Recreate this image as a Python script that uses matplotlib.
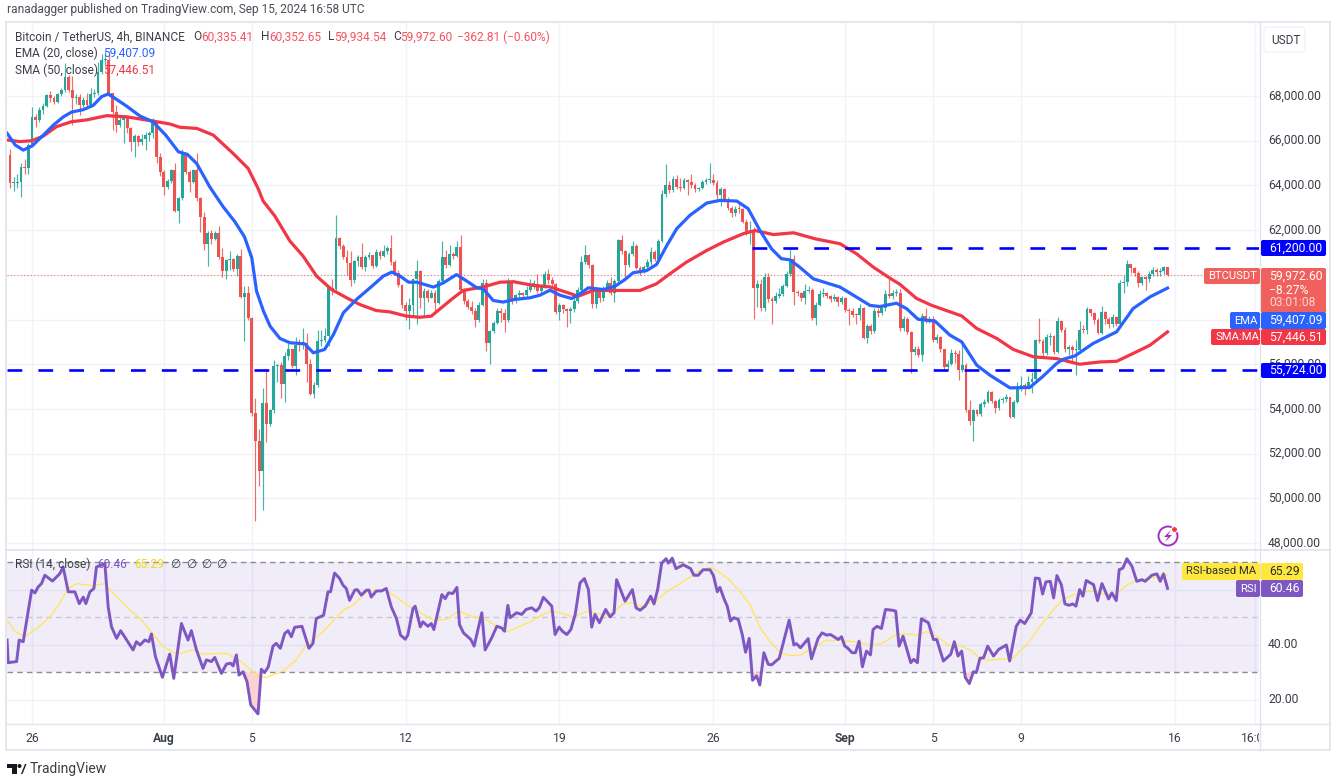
import numpy as np
import matplotlib
matplotlib.use('Agg')
import matplotlib.pyplot as plt
from matplotlib.patches import Circle, FancyBboxPatch, Polygon, Rectangle
from matplotlib.transforms import Bbox

plt.rcParams['font.family'] = ['Roboto', 'DejaVu Sans']

W, H = 1338, 783

# 4h candles, index 0 is Jul 26 00:00
first_index = -6
first_open = 65350
closes = [
    64090, 64100, 64130, 64830, 64780, 65800, 67070, 66930, 67370, 67560,
    68040, 67900, 67750, 68070, 68270, 68840, 68270, 67900, 67970, 67600,
    67820, 67600, 68100, 68120, 69090, 69600, 69610, 68120, 67300, 66700,
    66930, 67000, 66550, 65950, 66200, 65950, 66060, 66250, 66330, 66850,
    65280, 64610, 63940, 64180, 64680, 62870, 63420, 65430, 64610, 64160,
    64680, 63420, 62600, 61400, 61850, 61600, 61880, 60800, 60160, 60640,
    60690, 60240, 60840, 59000, 59190, 58070, 53820, 52550, 51200, 54270,
    53330, 53940, 55910, 55960, 55120, 56360, 56660, 55910, 56880, 56850,
    56950, 55990, 54670, 55090, 57030, 57100, 57250, 59390, 59350, 61630,
    61280, 60790, 60540, 59750, 60600, 60790, 60340, 60800, 60880, 60390,
    61000, 60840, 61060, 61210, 60580, 60090, 59540, 58640, 58400, 58640,
    59790, 60160, 58940, 59270, 58970, 59190, 58750, 59720, 60790, 60460,
    60910, 60840, 61240, 59300, 58820, 58550, 58370, 57970, 58670, 59640,
    56960, 57480, 57850, 58400, 58300, 57960, 59700, 58820, 59090, 59190,
    59090, 59340, 59570, 59580, 59270, 59490, 60020, 59750, 59570, 58340,
    58670, 58450, 58370, 58450, 58850, 59340, 60580, 60880, 60430, 58700,
    59340, 58940, 59420, 59640, 59190, 59720, 61550, 61060, 60430, 60910,
    61310, 60310, 60190, 60340, 60560, 61010, 60720, 61510, 63630, 64030,
    63780, 64300, 63930, 63880, 64220, 64150, 64000, 63850, 63900, 64150,
    64220, 64250, 64100, 63550, 63850, 63330, 63000, 62780, 62960, 62950,
    62360, 61910, 62000, 59420, 59600, 58520, 59900, 58930, 58850, 59050,
    59150, 59520, 60020, 60710, 59220, 59180, 58970, 59270, 59330, 58060,
    58670, 59120, 59180, 59050, 58900, 59000, 58780, 58960, 58430, 58370,
    58220, 58180, 58500, 57180, 57700, 57480, 58400, 58300, 58500, 59120,
    59030, 59180, 59200, 57630, 58030, 57430, 56530, 56680, 56430, 58150,
    57950, 58040, 57100, 57200, 56660, 55880, 56030, 56500, 56470, 55760,
    55950, 53970, 53460, 53940, 53760, 54240, 54300, 54760, 54360, 54060,
    54390, 54460, 54540, 53640, 54310, 54870, 55060, 54950, 55210, 55360,
    57100, 57050, 56480, 57220, 57250, 56550, 57940, 57550, 56660, 56780,
    56630, 56650, 57550, 57520, 58450, 58300, 58000, 57400, 58340, 58040,
    57790, 58120, 57820, 59640, 59690, 60480, 60290, 60090, 59640, 59880,
    59790, 60030, 60210, 60130, 60170, 60360, 59972,
]
highs = [
    65630, 64370, 64520, 65000, 65200, 65900, 67490, 67200, 67500, 67700,
    68100, 68240, 68000, 68150, 68350, 69460, 68950, 68900, 68100, 68100,
    67950, 68150, 68350, 68300, 69500, 69900, 69990, 69900, 68150, 67600,
    67100, 67150, 67100, 66600, 66300, 66250, 66300, 66400, 66450, 67000,
    66850, 65450, 64700, 64300, 64750, 65000, 63500, 65650, 65450, 64700,
    64750, 65450, 63500, 62800, 61950, 62000, 61950, 62200, 61200, 60700,
    61080, 60750, 60950, 61150, 59500, 59500, 58100, 54500, 53100, 54950,
    55800, 54000, 56200, 56000, 56100, 56550, 56950, 56700, 57200, 57150,
    57600, 57400, 56250, 55200, 57550, 57550, 57600, 59450, 59800, 62670,
    61700, 61400, 61100, 61050, 60650, 60900, 61430, 60900, 61000, 60900,
    61150, 61100, 61350, 61300, 61800, 60650, 60200, 59600, 58800, 58950,
    59850, 60640, 60200, 59400, 59350, 59300, 59300, 59800, 61530, 61100,
    61350, 61000, 61500, 61760, 59400, 58900, 58850, 58500, 58800, 59800,
    59800, 57550, 57950, 58500, 58500, 58480, 59850, 59750, 59150, 59300,
    59250, 59500, 59800, 59750, 60050, 59600, 60170, 60250, 59900, 59650,
    58750, 58700, 58500, 58550, 58950, 59450, 60850, 61340, 60950, 60500,
    59400, 59400, 59500, 59750, 59900, 59800, 61600, 61760, 61100, 61000,
    61500, 61400, 60400, 60450, 60700, 61250, 61100, 61600, 63800, 64970,
    64200, 64400, 64450, 64350, 64350, 64300, 64500, 64100, 63950, 64250,
    64350, 65000, 64500, 64250, 63950, 63900, 63500, 63100, 63100, 63200,
    63000, 62500, 62400, 62150, 59750, 59800, 60100, 60100, 59000, 59250,
    59400, 59600, 60150, 61160, 60900, 59300, 59250, 59600, 59500, 59400,
    58800, 59300, 59400, 59250, 59100, 59150, 59050, 59050, 59000, 58500,
    58500, 58300, 58680, 58550, 57800, 57800, 58500, 58500, 58650, 59300,
    59820, 59300, 59350, 59350, 58150, 58100, 57500, 56800, 56800, 58300,
    58500, 58150, 58150, 57350, 57250, 56700, 56200, 56700, 56650, 56650,
    57000, 56050, 54400, 54000, 54000, 54300, 54450, 54850, 54800, 54400,
    54500, 54550, 54650, 54550, 54400, 55200, 55450, 55150, 55450, 55650,
    57150, 58050, 57150, 57350, 57400, 57300, 58100, 58000, 57650, 56850,
    56850, 57100, 57950, 57750, 58550, 58450, 58350, 58050, 58600, 58400,
    58100, 58250, 58150, 59750, 60000, 60650, 60500, 60350, 60150, 59950,
    59950, 60150, 60350, 60300, 60300, 60400, 60353,
]
lows = [
    63870, 63750, 63880, 63500, 64500, 64500, 65750, 66600, 66850, 67200,
    67500, 67750, 67650, 67700, 68000, 68200, 68200, 66700, 67650, 67150,
    67500, 67450, 67550, 67950, 68050, 69000, 69400, 68000, 66500, 66400,
    66600, 65900, 66350, 65530, 65280, 65750, 65800, 65600, 66000, 66100,
    65000, 64400, 63550, 63850, 64100, 62800, 62300, 63350, 64500, 63700,
    64100, 63300, 61900, 61100, 60400, 61400, 61550, 60700, 59900, 59800,
    60200, 60150, 59950, 58950, 57050, 58000, 53700, 48970, 50530, 49490,
    52500, 53250, 53800, 55200, 54500, 54300, 56200, 55850, 55500, 56600,
    56700, 55200, 54600, 54500, 55000, 56800, 57000, 56800, 59100, 59300,
    61150, 60700, 60000, 59500, 59650, 60400, 60250, 60150, 60700, 60300,
    60350, 60700, 60800, 60950, 60450, 60000, 59450, 58500, 58000, 57580,
    58100, 57800, 58500, 58200, 58800, 58950, 58350, 58700, 59700, 60300,
    60400, 60700, 60800, 59250, 58700, 58450, 58250, 57650, 57900, 58600,
    56600, 56000, 57400, 57800, 57900, 57450, 57900, 58700, 58750, 59000,
    58950, 59000, 59250, 59350, 59200, 59200, 59400, 59600, 59450, 58250,
    58000, 58300, 57650, 57830, 58350, 58750, 59250, 60500, 60300, 58500,
    58500, 58800, 58850, 59350, 59100, 58800, 59650, 60950, 59800, 60350,
    60850, 60250, 59970, 60100, 60200, 60450, 60600, 60650, 61450, 63500,
    63650, 63700, 63850, 63750, 63850, 63550, 63900, 63700, 63750, 63850,
    64050, 64100, 64000, 63400, 63100, 63250, 62900, 62600, 62650, 62750,
    62300, 61800, 61400, 58030, 58550, 58400, 58400, 58800, 57800, 58750,
    58950, 59050, 59450, 59950, 58650, 59050, 58850, 58700, 59200, 58000,
    57750, 58600, 59000, 58950, 58800, 58850, 58600, 58700, 58350, 57750,
    58100, 57800, 58000, 57150, 56950, 57350, 57400, 58100, 58200, 58400,
    58950, 58900, 59050, 57500, 57500, 57350, 55610, 56400, 56300, 56160,
    57850, 57850, 57000, 56950, 56550, 55800, 55750, 55950, 56050, 55300,
    55650, 53850, 53300, 52550, 53700, 53700, 54100, 54250, 54250, 53800,
    53950, 54250, 54300, 53600, 53600, 54250, 54800, 54600, 54900, 54700,
    55300, 56950, 56350, 56400, 56850, 56450, 56500, 57450, 56550, 56400,
    56100, 55500, 56500, 57400, 57350, 58150, 57800, 57350, 57350, 57800,
    57600, 57650, 57700, 57750, 59200, 59500, 60100, 59950, 59450, 59550,
    59300, 59700, 59950, 59950, 59950, 60050, 59934,
]

ema_x = [-6.8, -4.6, -2.4, 0, 2.6, 5.8, 8.5, 10.8, 14, 16.7, 19, 20.8, 22.6, 25.8, 29.5, 33, 36.5, 40, 42.4, 45,
         48.5, 52.2, 55.4, 58, 60, 61.3, 63.2, 65, 67.7, 70.4, 74.5, 76.8, 79.9, 82.3, 85, 88.6, 92.3, 95.9,
         98.2, 100.5, 102.8, 105, 109.6, 112.3, 115.9, 118.7, 121.4, 123.2, 125.9, 128.6, 131.8, 135.9, 138.7,
         141.4, 144.1, 147.3, 149.1, 151.9, 156, 159.2, 161.9, 164.1, 167.8, 170.5, 173.3, 176, 179.6, 184.2,
         187.8, 192.4, 195.5, 198.7, 201.9, 204.6, 206.9, 209.6, 213.3, 220.6, 225.1, 228.8, 231.5, 236, 238.8,
         241.9, 246.5, 250.6, 253.8, 257.9, 261.5, 267, 272.4, 276, 279.7, 281.5, 284.7, 289.7, 296.1, 300.6,
         305.2, 310]
ema_y = [66330, 65810, 65580, 65760, 66170, 66690, 67060, 67280, 67390, 67580, 67970, 68090, 67900, 67550, 67100,
         66850, 66250, 65500, 65390, 64970, 63940, 63040, 62370, 61700, 60760, 59270, 58370, 57700, 57150, 56960,
         56910, 56510, 56660, 57330, 58300, 58900, 59420, 59940, 60120, 59940, 59670, 59670, 59450, 59640, 60010,
         59720, 59420, 59370, 58850, 58780, 58900, 58970, 59090, 59310, 59090, 58940, 59090, 59420, 59340, 59490,
         59790, 60090, 60190, 60460, 61310, 62060, 62660, 63210, 63330, 63300, 62960, 61990, 61160, 60720, 60670,
         60340, 59820, 59450, 59000, 58630, 58580, 58730, 58480, 58010, 57930, 57300, 57000, 55960, 55510, 54940,
         54960, 55460, 56030, 56220, 56370, 56930, 57450, 58490, 59010, 59407]
sma_x = [-6.8, -3.3, 0, 3.1, 6.7, 10.8, 14.9, 20.4, 25.8, 32.2, 37.6, 40.4, 45, 49.5, 54.9, 59, 61.7, 63.1, 66.3,
         70.4, 74, 77.7, 81.8, 85.9, 89.5, 94, 97.7, 102.3, 105.9, 109, 112.3, 114.9, 117.7, 123.2, 127.8, 131.5,
         137, 141.4, 145.5, 149.1, 153.2, 159.6, 166, 170.5, 174.1, 178.7, 184.2, 188.7, 194.2, 197.4, 202.4,
         207.9, 213.8, 220.6, 225.1, 229.7, 234.2, 236.9, 241.5, 245.5, 253.8, 257.9, 263.4, 267.9, 273.4, 279.7,
         286, 291.5, 296.1, 300.6, 305.2, 310]
sma_y = [66030, 65960, 66000, 66210, 66630, 66850, 66930, 67120, 67070, 66900, 66750, 66600, 66550, 66250, 65430,
         64760, 63870, 63300, 62630, 61510, 60840, 59940, 59340, 58970, 58670, 58400, 58340, 58150, 58100, 58150,
         58600, 58950, 59300, 59460, 59670, 59690, 59520, 59460, 59240, 59040, 59300, 59300, 59300, 59600, 60040,
         60570, 61090, 61460, 61840, 61980, 61800, 61880, 61610, 61390, 60940, 60340, 59850, 59580, 58940, 58640,
         58160, 57600, 57150, 56660, 56330, 56250, 56000, 56100, 56130, 56480, 56850, 57446]

rsi_x = [-6.8, -6.5, -4.2, -3.5, -2.4, -0.1, 0.8, 1.7, 2.6, 3.5, 5.6, 7.6, 8.5, 9.9, 11.7, 12.9, 14, 14.7, 15.8, 16.9,
         17.6, 19.9, 20.8, 21.7, 23.1, 24.2, 27.6, 28.5, 29.5, 30.8, 31.9, 32.6, 33.7, 35.6, 37.6, 38.7, 40.8, 42.6,
         43.5, 44.9, 46.7, 47.6, 49, 49.9, 51.7, 53.1, 54.2, 54.9, 55.8, 56.5, 57.6, 58.7, 59.7, 61.7, 62.6, 63.5,
         64.5, 65.8, 66.7, 67.8, 69, 69.9, 70.8, 71.7, 73.7, 75.6, 76.7, 77.6, 79.6, 80.8, 81.5, 82.6, 84, 84.9, 85.8,
         86.7, 88.1, 88.8, 89.9, 91.3, 92, 92.6, 94, 95.4, 96.7, 98.1, 99.5, 100.6, 101.9, 102.6, 104, 104.6, 106,
         106.7, 108.1, 109, 109.7, 111.9, 112.8, 113.7, 114.9, 116, 116.7, 117.8, 119.8, 120.7, 122.8, 123.7, 125.5,
         126.9, 128.2, 129, 129.9, 130.5, 132.3, 133.7, 134.9, 136.4, 137.6, 138.5, 139.6, 141.9, 142.8, 143.9, 144.8,
         146, 147.1, 148.3, 149.6, 150.8, 151.9, 152.8, 153.7, 154.9, 156.6, 157.8, 158.9, 159.6, 161.9, 163.9, 164.9,
         166, 167.4, 168.9, 169.8, 170.8, 171.9, 173.1, 173.7, 174.8, 175.8, 177.8, 179.8, 180.7, 181.9, 183.2, 185.1,
         186, 187.1, 187.8, 189, 189.8, 190.7, 191.6, 192.8, 193.9, 194.8, 195.8, 196.7, 197.8, 198.7, 199.8, 201,
         201.9, 204, 206.7, 208, 208.7, 209.8, 211.9, 212.8, 214.6, 215.7, 216.9, 218, 220.1, 221, 221.9, 222.6, 223.9,
         224.8, 225.8, 226.7, 227.8, 228.9, 229.6, 230.7, 231.9, 233, 234.9, 235.8, 236.7, 237.8, 239.9, 240.7, 241.7,
         242.8, 244.7, 246.1, 247, 248.8, 250.8, 251.8, 252.8, 253.8, 254.8, 255.9, 257, 257.8, 258.8, 259.8, 260.9,
         262.5, 263.9, 266, 266.9, 268.7, 269.8, 271, 272.8, 273.9, 275, 275.9, 276.8, 278, 278.9, 279.8, 281, 282,
         283.1, 284.1, 285, 286, 286.9, 287.8, 289.8, 290.9, 292.1, 293.9, 294.8, 296, 296.8, 297.8, 298.9, 300.3,
         301.6, 303, 303.9, 305.7, 307.1, 308, 308.9, 310]
rsi_y = [41.7, 33.5, 33.9, 41.7, 41.1, 59.8, 58.8, 61, 62.2, 65.2, 63.1, 65.8, 68.2, 59.2, 59.2, 54.9, 57.3, 54.9, 59.2,
         60.4, 68.2, 69.4, 53.7, 46.5, 42.3, 45.1, 38.1, 41.1, 39.9, 41.7, 41.1, 43.9, 35.7, 28.2, 36.6, 27.8, 47.7,
         41.7, 45.1, 38.1, 31.4, 34.5, 33.9, 35.4, 29.6, 33, 33.3, 32.3, 36.3, 29, 30.2, 26.6, 18.2, 14.9, 31.1, 29.9,
         32, 39.5, 40.5, 38.7, 44.1, 45.1, 42.9, 46.3, 46.7, 38.7, 40.5, 49.5, 50.7, 59.2, 59.2, 66, 64, 61.6, 60.4,
         56.1, 59.8, 60, 58, 59.8, 59.8, 57.3, 59.5, 59.5, 60.4, 53.7, 49.5, 43.5, 42, 43.5, 53.1, 54, 46.5, 48.3, 46.7,
         47.7, 45.5, 58.2, 56.7, 58.8, 58.6, 60.8, 47.3, 44.3, 41.9, 39.5, 51.6, 38.1, 42.5, 46.7, 46.1, 44.9, 54.3,
         49.8, 51.6, 51, 52.8, 53.4, 52.2, 53.4, 57.2, 54, 43.7, 46.4, 44.9, 43.7, 45.5, 51, 62.4, 64, 60, 46.4, 51, 48,
         52.8, 50.1, 51.6, 63.6, 55.8, 60, 53.4, 52.5, 54, 57.6, 54.8, 60, 69.6, 71.2, 69.6, 71.4, 67.6, 69, 67.6, 65.2,
         65.2, 67.2, 67.2, 65.2, 59.2, 60.8, 56.4, 54, 48.6, 49.8, 49.2, 43.7, 37.3, 42.3, 27.1, 28.7, 25.4, 37.1, 32.9,
         32.7, 35.1, 48.9, 39.9, 40.4, 38.9, 42.2, 34.9, 42.3, 44.3, 43.5, 43.7, 41.9, 42.9, 39.5, 38.9, 37.1, 37.1,
         41.3, 32, 37.7, 36.3, 45.5, 46.7, 45.9, 52.8, 52.5, 52.2, 39.5, 43.1, 33.5, 34.7, 33.5, 49.4, 48, 41.9, 41.9,
         34.1, 36.5, 41.1, 35.9, 37.7, 28.1, 25.9, 30.2, 29.9, 35.1, 35.3, 39.5, 35.9, 38.3, 39.9, 34.1, 46.7, 48.9,
         47.7, 51.6, 64.2, 64, 58.4, 62.8, 63, 57, 65.1, 61.8, 54.8, 54.3, 54.8, 54, 60, 57.6, 63.3, 61.8, 56, 62.2,
         56.6, 58.8, 56, 67.2, 67.8, 71.2, 68.4, 63, 63.6, 63, 65.2, 65.7, 63, 65.7, 60.46]
rsi_ma_x = [-6.8, -4.6, -1.9, 1.3, 4.9, 7.2, 9.9, 12.2, 16.7, 19.9, 22.6, 26.3, 29.5, 32.2, 35.8, 39.5, 44, 46.7, 53.1,
            56.7, 61.7, 64, 68.5, 71.7, 74.9, 79, 84.9, 87.6, 91.3, 94, 96.7, 102.6, 109.5, 113.2, 116.4, 120.5, 123.2,
            126.4, 129.6, 133.2, 136, 138.2, 141.9, 147.8, 151.9, 156, 158.7, 161.4, 163.7, 166, 170.5, 173.3, 176.9,
            179.6, 182.3, 185.1, 187.3, 190, 193.2, 196, 198.7, 201.4, 204.2, 206.9, 209.6, 213.3, 216.9, 220.5, 225.1,
            229.2, 231.9, 236, 238.7, 241.5, 244.2, 247, 250.2, 253.8, 256.6, 258.8, 261.1, 264.8, 267.5, 271.6, 275.2,
            278.9, 281.6, 286.6, 290.2, 293.4, 296.2, 299.8, 303.4, 307.1, 310]
rsi_ma_y = [48.9, 44.7, 42.9, 45.9, 50.1, 54.3, 60.4, 62.2, 61.3, 62.2, 58, 53.1, 49.5, 45.3, 39.3, 36.6, 38.1, 36.6,
            36.9, 34.2, 28.7, 28.1, 30.5, 33.9, 39.9, 44.1, 52.5, 54.3, 59.2, 59.8, 59.8, 54.3, 48.9, 49.2, 52.2, 50.1,
            49.8, 47.1, 44.7, 46.7, 48.3, 50.1, 52.4, 50.1, 52.2, 50.7, 51.8, 54.9, 55.2, 54, 56, 59.2, 62.2, 64.5, 66.9,
            68.1, 66.6, 64, 59.4, 54.6, 46.4, 41.3, 37.1, 36.1, 36.1, 38.9, 41.6, 41.6, 41, 39.9, 40.4, 43.7, 44, 43.5,
            44.7, 43.1, 39.9, 39.5, 37.7, 34.9, 34.3, 34.9, 34.7, 40.1, 46.7, 52.8, 56.6, 59.2, 59.4, 58.2, 58.8, 62.4,
            63.6, 64.5, 65.29]

price_ticks = [48000, 50000, 52000, 54000, 56000, 58000, 60000, 62000, 64000, 66000, 68000]
rsi_ticks = [20, 40, 60]
day_ticks = [0, 36, 60, 102, 144, 186, 222, 246, 270, 312, 334]
day_labels = ['26', 'Aug', '5', '12', '19', '26', 'Sep', '5', '9', '16', '16:00']
bold_days = ['Aug', 'Sep']
support = 55724
resistance = 61200
resistance_start = 196.5
last_close = 59972.60

GREEN = '#26a69a'
RED = '#ef5350'
EMA_BLUE = '#2962ff'
SMA_RED = '#f23645'
RSI_PURPLE = '#7e57c2'
RSI_YELLOW = '#ffe75c'
GRID = '#f0f3fa'
BORDER = '#e0e3eb'
TEXT = '#3c4049'
DASH_BLUE = '#0000ff'


def px_axes(fig, left, top, right, bottom):
    return fig.add_axes([left / W, 1 - bottom / H, (right - left) / W, (bottom - top) / H])


def tag(ax, left, top, right, bottom, color, zorder=5):
    box = FancyBboxPatch((left, top), right - left, bottom - top, boxstyle='round,pad=0,rounding_size=2',
                         facecolor=color, edgecolor='none', zorder=zorder)
    ax.add_patch(box)


fig = plt.figure(figsize=(W / 100, H / 100), dpi=100, facecolor='white')

# main price pane
ax = px_axes(fig, 7, 23, 1259, 549)
ax.set_xlim(-6.825, 334.97)
ax.set_ylim(47732, 71266)
ax.yaxis.tick_right()
ax.set_yticks(price_ticks)
ax.set_yticklabels([f'{p:,.2f}' for p in price_ticks], fontsize=8.7, color='#3a3e48', va='center')
ax.tick_params(axis='y', length=0, pad=6.5)
ax.tick_params(axis='x', length=0, labelbottom=False)
ax.set_xticks(day_ticks)
ax.grid(True, color=GRID, linewidth=1)
ax.set_axisbelow(True)
for side in ax.spines.values():
    side.set_visible(False)

opens = [first_open] + closes[:-1]
candle_x = np.arange(len(closes)) + first_index
colors = [GREEN if c >= o else RED for o, c in zip(opens, closes)]
ax.vlines(candle_x, lows, highs, colors=colors, linewidth=0.85, alpha=0.85, zorder=2)
body_low = np.minimum(opens, closes)
body_height = np.maximum(np.abs(np.array(closes) - np.array(opens)), 50)
ax.bar(candle_x, body_height, bottom=body_low, width=0.78, color=colors, linewidth=0, zorder=3)

ax.plot(sma_x, sma_y, color=SMA_RED, linewidth=2.3, solid_joinstyle='round', zorder=4)
ax.plot(ema_x, ema_y, color=EMA_BLUE, linewidth=2.3, solid_joinstyle='round', zorder=5)

ax.axhline(last_close, color=RED, linewidth=0.8, linestyle=(0, (1, 2)), alpha=0.8, zorder=2)
ax.plot([resistance_start, 335], [resistance, resistance], color=DASH_BLUE, linewidth=1.9,
        linestyle=(0, (5.6, 6.1)), zorder=6, dash_capstyle='butt')
ax.axhline(support, color=DASH_BLUE, linewidth=1.9, linestyle=(0, (5.6, 6.1)), zorder=6, dash_capstyle='butt')

# RSI pane
ax_rsi = px_axes(fig, 7, 551, 1259, 724)
ax_rsi.set_xlim(ax.get_xlim())
ax_rsi.set_ylim(11.25, 74)
ax_rsi.axhspan(30, 70, color=RSI_PURPLE, alpha=0.11, linewidth=0, zorder=1)
ax_rsi.yaxis.tick_right()
ax_rsi.set_yticks(rsi_ticks)
ax_rsi.set_yticklabels([f'{v:.2f}' for v in rsi_ticks], fontsize=8.7, color='#3a3e48', va='center')
ax_rsi.tick_params(axis='y', length=0, pad=6.5)
ax_rsi.set_xticks(day_ticks)
ax_rsi.set_xticklabels(day_labels, fontsize=8.7, color='#3a3e48')
ax_rsi.tick_params(axis='x', length=0, pad=5.5)
ax_rsi.grid(True, color=GRID, linewidth=1)
ax_rsi.set_axisbelow(True)
for side in ax_rsi.spines.values():
    side.set_visible(False)
for lab in ax_rsi.get_xticklabels():
    if lab.get_text() in bold_days:
        lab.set_fontweight('bold')
    if lab.get_text() == '16:00':
        # last label is cut by the price scale
        lab.set_clip_on(True)
        lab.set_clip_box(Bbox([[7, 0], [1259, H]]))

for level, shade in [(70, '#8a8d96'), (50, '#c9c9d0'), (30, '#8a8d96')]:
    ax_rsi.axhline(level, color=shade, linewidth=1, linestyle=(0, (4, 3)), zorder=2)

rsi_x_arr = np.array(rsi_x)
rsi_y_arr = np.array(rsi_y)
ax_rsi.fill_between(rsi_x_arr, rsi_y_arr, 30, where=rsi_y_arr < 30, interpolate=True, color='#fbd3d0',
                    linewidth=0, zorder=2)
ax_rsi.plot(rsi_ma_x, rsi_ma_y, color=RSI_YELLOW, linewidth=0.95, zorder=3)
ax_rsi.plot(rsi_x, rsi_y, color=RSI_PURPLE, linewidth=2.1, solid_joinstyle='round', zorder=4)

# overlay in pixel coordinates for the frame, legends and price tags
ov = fig.add_axes([0, 0, 1, 1], facecolor='none')
ov.set_xlim(0, W)
ov.set_ylim(H, 0)
ov.axis('off')

ov.add_patch(Rectangle((6, 22), 1324, 728, fill=False, edgecolor=BORDER, linewidth=1.2, zorder=1))
ov.plot([1259.5, 1259.5], [22, 750], color=BORDER, linewidth=1, zorder=1)
ov.plot([6, 1330], [550, 550], color=BORDER, linewidth=1.2, zorder=1)
ov.plot([6, 1330], [724, 724], color=BORDER, linewidth=1, zorder=1)

ov.text(7, 10, 'ranadagger published on TradingView.com, Sep 15, 2024 16:58 UTC', fontsize=8.6, color='#4a4e58',
        va='center')

legend_kw = dict(fontsize=8.6, va='center', zorder=6)
ov.text(15, 37, 'Bitcoin / TetherUS, 4h, BINANCE', color=TEXT, **legend_kw)
for x0, letter, x1, value in [(193, 'O', 201, '60,335.41'), (261, 'H', 269, '60,352.65'),
                              (328, 'L', 334, '59,934.54'), (393, 'C', 400, '59,972.60')]:
    ov.text(x0, 37, letter, color=TEXT, **legend_kw)
    ov.text(x1, 37, value, color='#f7525f', **legend_kw)
ov.text(457, 37, '\u2212362.81 (\u22120.60%)', color='#f7525f', **legend_kw)
ov.text(15, 53.5, 'EMA (20, close)', color=TEXT, **legend_kw)
ov.text(103, 53.5, '59,407.09', color=EMA_BLUE, **legend_kw)
ov.text(15, 70.5, 'SMA (50, close)', color=TEXT, **legend_kw)
ov.text(103, 70.5, '57,446.51', color=SMA_RED, **legend_kw)

ov.text(15, 564, 'RSI (14, close)', color=TEXT, **legend_kw)
ov.text(97, 564, '60.46', color=RSI_PURPLE, **legend_kw)
ov.text(134, 564, '65.29', color='#f5d90a', **legend_kw)
for x0 in (170, 186, 201, 216):
    ov.text(x0, 564, '\u2205', color=TEXT, **legend_kw)

# USDT button
tag(ov, 1264, 27, 1305, 52, 'white', zorder=2)
ov.add_patch(FancyBboxPatch((1264, 27), 41, 25, boxstyle='round,pad=0,rounding_size=3', fill=False,
                            edgecolor=GRID, linewidth=1, zorder=3))
ov.text(1271, 40, 'USDT', fontsize=8.6, color='#3a3e48', va='center', zorder=6)

value_kw = dict(fontsize=8.7, va='center', ha='left', zorder=7)
name_kw = dict(fontsize=8.1, va='center', ha='left', zorder=7)
tag(ov, 1261, 240, 1326, 256, DASH_BLUE)
ov.text(1269, 248, f'{resistance:,.2f}', color='white', **value_kw)
tag(ov, 1261, 363, 1326, 378, DASH_BLUE)
ov.text(1269, 370.5, f'{support:,.2f}', color='white', **value_kw)

tag(ov, 1204, 268, 1260, 284, '#f0605c')
ov.text(1208, 276, 'BTCUSDT', color='white', **name_kw)
tag(ov, 1261, 268, 1326, 313, '#f0605c')
ov.text(1269, 276, f'{last_close:,.2f}', color='white', **value_kw)
ov.text(1269, 290, '\u22128.27%', color='white', **value_kw)
ov.text(1269, 303, '03:01:08', color='#fbd5d3', **value_kw)

tag(ov, 1230, 312, 1260, 329, EMA_BLUE)
ov.text(1234, 320.5, 'EMA', color='white', **name_kw)
tag(ov, 1261, 312, 1326, 329, EMA_BLUE)
ov.text(1269, 320.5, '59,407.09', color='white', **value_kw)
tag(ov, 1211, 329, 1260, 345, SMA_RED)
ov.text(1215, 337, 'SMA:MA', color='white', **name_kw)
tag(ov, 1261, 329, 1326, 345, SMA_RED)
ov.text(1269, 337, '57,446.51', color='white', **value_kw)

tag(ov, 1182, 563, 1260, 580, '#ffe83b')
ov.text(1186, 571.5, 'RSI-based MA', color='#2a2e39', **name_kw)
tag(ov, 1261, 563, 1303, 580, '#ffe83b')
ov.text(1269, 571.5, '65.29', color='#2a2e39', **value_kw)
tag(ov, 1236, 580, 1260, 597, RSI_PURPLE)
ov.text(1240, 588.5, 'RSI', color='white', **name_kw)
tag(ov, 1261, 580, 1303, 597, RSI_PURPLE)
ov.text(1269, 588.5, '60.46', color='white', **value_kw)

# lightning icon
ov.add_patch(Circle((1168, 536), 9.5, fill=False, edgecolor='#a32fc0', linewidth=1.4, zorder=6))
ov.add_patch(Polygon([(1171, 530), (1164, 537), (1168, 537), (1165, 542), (1172, 535), (1168, 535)],
                     closed=True, facecolor='#a32fc0', edgecolor='none', zorder=7))
ov.add_patch(Circle((1174.5, 529.5), 3, facecolor='#f23645', edgecolor='white', linewidth=0.8, zorder=8))

# TradingView mark
ov.add_patch(Polygon([(7, 764), (17, 764), (17, 774), (12, 774), (12, 768), (7, 768)], closed=True,
                     facecolor='#131722', edgecolor='none'))
ov.add_patch(Circle((19.5, 766), 2, facecolor='#131722', edgecolor='none'))
ov.add_patch(Polygon([(21, 774), (25, 764), (26.5, 764), (22.5, 774)], closed=True, facecolor='#131722',
                     edgecolor='none'))
ov.text(30, 769, 'TradingView', fontsize=10, color='#3a3e48', va='center')

fig.savefig('out.png', dpi=100)
